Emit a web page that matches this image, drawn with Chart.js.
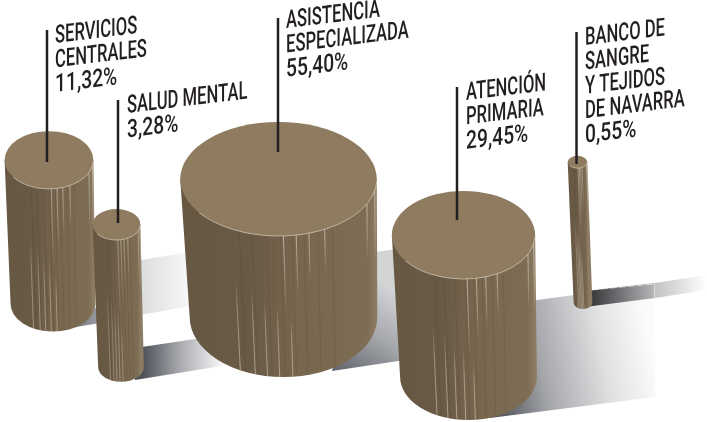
<!DOCTYPE html>
<html>
<head>
<meta charset="utf-8">
<title>Presupuesto por area</title>
<script src="https://cdn.jsdelivr.net/npm/chart.js@4/dist/chart.umd.min.js"></script>
<style>
  html, body { margin: 0; padding: 0; background: #fff; }
  #chart { display: block; }
</style>
</head>
<body>
<canvas id="chart" width="707" height="422"></canvas>
<script>
// Values
const names = [
  ['SERVICIOS', 'CENTRALES'],
  ['SALUD MENTAL'],
  ['ASISTENCIA', 'ESPECIALIZADA'],
  ['ATENCIÓN', 'PRIMARIA'],
  ['BANCO DE', 'SANGRE', 'Y TEJIDOS', 'DE NAVARRA']
];
const shares = [11.32, 3.28, 55.40, 29.45, 0.55];
const shareLabels = ['11,32%', '3,28%', '55,40%', '29,45%', '0,55%'];

// Where each cylinder stands, in axis units (the axes run over the whole page)
const topX = [49, 116.5, 278.5, 463.5, 577.5];
const topY = [160, 224.5, 179, 235, 162];
const baseX = [53, 121, 283.5, 468.5, 583];
const baseY = [304, 367, 317, 377, 303];
const flatness = [0.65, 0.65, 0.58, 0.615, 0.63];
const baseFlatness = [0.65, 0.65, 0.64, 0.63, 0.63];

// Leader lines and label blocks
const leaderX = [47, 118, 278, 457, 576.5];
const leaderTop = [30, 100, 18, 87, 32];
const leaderEnd = [162, 223, 152, 220, 164];
const labelX = [55, 127, 286, 466, 585];
const labelY = [43, 113, 28, 100, 45];

// The circle area carries the share, the radius is its square root
const RADIUS_PER_ROOT = 13.2;

// Same bark texture on all of them: u across (-1..1) and the part of the side (0..1) it covers
const streaksHigh = [[0.05, 0.55], [0.18, 0.45], [0.31, 0.35], [0.47, 0.3], [0.9, 0.4], [0.98, 0.5]];
const streaksLow = [[-0.46, 0.36], [-0.3, 0.4], [-0.17, 0.46], [-0.04, 0.49], [0.1, 0.6]];
const grooves = [-0.4, -0.27, -0.12, 0.02, 0.14, 0.26, 0.4, 0.55];

// Shadow bands on the floor: polygon, gradient line, colour stops
const shadows = [
  { pts: [[70, 328], [100, 323], [100, 306], [88, 312]], from: [72, 0], to: [100, 0],
    stops: [[0, '#6f7279'], [1, '#9c9ea3']] },
  { pts: [[135, 261], [190, 252], [190, 306], [135, 316]], from: [138, 0], to: [190, 0],
    stops: [[0, '#d9dbdd'], [1, '#f8f8f8']] },
  { pts: [[135, 348], [215, 336], [240, 363], [135, 380]], from: [143, 0], to: [226, 0],
    stops: [[0, '#4f5259'], [0.45, '#a9abb0'], [1, '#ffffff']] },
  { pts: [[360, 254], [405, 248], [405, 360], [332, 371]], from: [340, 375], to: [395, 290],
    stops: [[0, '#62656c'], [0.55, '#a9abb0'], [1, '#d3d4d6']] },
  { pts: [[530, 301], [655, 284], [655, 397], [490, 418]], from: [500, 400], to: [655, 370],
    stops: [[0, '#565960'], [0.3, '#a5a7ab'], [0.7, '#e0e1e2'], [1, '#fbfbfb']] },
  { pts: [[585, 291], [655, 283], [655, 298], [585, 307]], from: [592, 0], to: [655, 0],
    stops: [[0, '#3a3a3d'], [1, '#b5b7b9']] },
  { pts: [[655, 283], [707, 275], [707, 290], [655, 298]], from: [655, 0], to: [707, 0],
    stops: [[0, '#c0c2c4'], [1, '#ffffff']] }
];

const cylinderPlugin = {
  id: 'cylinders',
  afterDatasetsDraw: function(chart) {
    const ctx = chart.ctx;
    const sx = chart.scales.x;
    const sy = chart.scales.y;
    const points = chart.getDatasetMeta(0).data;

    // floor shadows first
    shadows.forEach(function(s) {
      const g = ctx.createLinearGradient(sx.getPixelForValue(s.from[0]), sy.getPixelForValue(s.from[1]),
        sx.getPixelForValue(s.to[0]), sy.getPixelForValue(s.to[1]));
      s.stops.forEach(function(st) { g.addColorStop(st[0], st[1]); });
      ctx.fillStyle = g;
      ctx.beginPath();
      s.pts.forEach(function(p, i) {
        if (i == 0) ctx.moveTo(sx.getPixelForValue(p[0]), sy.getPixelForValue(p[1]));
        else ctx.lineTo(sx.getPixelForValue(p[0]), sy.getPixelForValue(p[1]));
      });
      ctx.closePath();
      ctx.fill();
    });
    // thin pale edge on the last band
    ctx.save();
    ctx.strokeStyle = 'rgba(255,255,255,0.75)';
    ctx.lineWidth = 0.7;
    ctx.setLineDash([7, 2]);
    ctx.beginPath();
    ctx.moveTo(sx.getPixelForValue(592), sy.getPixelForValue(290));
    ctx.lineTo(sx.getPixelForValue(654.5), sy.getPixelForValue(284));
    ctx.stroke();
    ctx.setLineDash([]);
    ctx.beginPath();
    ctx.moveTo(sx.getPixelForValue(654.5), sy.getPixelForValue(284));
    ctx.lineTo(sx.getPixelForValue(654.5), sy.getPixelForValue(298));
    ctx.stroke();
    ctx.restore();

    points.forEach(function(pt, i) {
      const r = pt.options.radius;
      const k = flatness[i];
      const bk = baseFlatness[i];
      const bx = sx.getPixelForValue(baseX[i]);
      const by = sy.getPixelForValue(baseY[i]);
      const br = r * 0.955;

      // side of the cylinder
      const side = ctx.createLinearGradient(pt.x - r, 0, pt.x + r, 0);
      side.addColorStop(0, '#675844');
      side.addColorStop(0.36, '#695a46');
      side.addColorStop(0.6, '#78674f');
      side.addColorStop(0.95, '#7e6d55');
      side.addColorStop(1, '#8d7c64');
      ctx.fillStyle = side;
      ctx.beginPath();
      ctx.moveTo(pt.x - r, pt.y);
      ctx.lineTo(bx - br, by);
      ctx.ellipse(bx, by, br, br * bk, 0, Math.PI, 0, true);
      ctx.lineTo(pt.x + r, pt.y);
      ctx.closePath();
      ctx.fill();

      // grooves and light streaks, v runs from the top rim to the bottom rim
      ctx.save();
      ctx.clip();
      const sideLine = function(u, v0, v1, color, w, fade) {
        const rim = Math.sqrt(1 - u * u);
        const x0 = pt.x + u * r;
        const y0 = pt.y + rim * r * k;
        const x1 = bx + u * br;
        const y1 = by + rim * br * bk;
        const ax = x0 + (x1 - x0) * v0, ay = y0 + (y1 - y0) * v0;
        const ex = x0 + (x1 - x0) * v1, ey = y0 + (y1 - y0) * v1;
        let style = color;
        if (fade) {
          style = ctx.createLinearGradient(0, ay, 0, ey);
          fade.forEach(function(st) { style.addColorStop(st[0], st[1]); });
        }
        ctx.strokeStyle = style;
        ctx.lineWidth = w;
        ctx.beginPath();
        ctx.moveTo(ax, ay);
        ctx.lineTo(ex, ey);
        ctx.stroke();
      };
      const w = Math.max(0.6, Math.min(0.9, r / 60));
      grooves.forEach(function(u) { sideLine(u, 0, 1, 'rgba(70,60,45,0.22)', 0.8); });
      streaksHigh.forEach(function(s) {
        sideLine(s[0], 0, s[1], null, w, [[0, 'rgba(236,228,210,0.7)'], [0.6, 'rgba(236,228,210,0.35)'], [1, 'rgba(236,228,210,0)']]);
      });
      streaksLow.forEach(function(s) {
        sideLine(s[0], s[1], 1, null, w, [[0, 'rgba(236,228,210,0)'], [0.35, 'rgba(236,228,210,0.45)'], [1, 'rgba(236,228,210,0.55)']]);
      });
      ctx.restore();

      // top face with its pale rim at the front right
      ctx.fillStyle = '#8e7b60';
      ctx.beginPath();
      ctx.ellipse(pt.x, pt.y, r, r * k, 0, 0, Math.PI * 2);
      ctx.fill();
      ctx.strokeStyle = 'rgba(236,228,210,0.8)';
      ctx.lineWidth = 0.7;
      ctx.beginPath();
      ctx.ellipse(pt.x, pt.y, r, r * k, 0, 0.03, Math.PI * 0.8);
      ctx.stroke();
    });

    // leaders and labels on top of everything
    points.forEach(function(pt, i) {
      const lx = sx.getPixelForValue(leaderX[i]);
      ctx.strokeStyle = '#231f20';
      ctx.lineWidth = 2.5;
      ctx.beginPath();
      ctx.moveTo(lx, sy.getPixelForValue(leaderTop[i]));
      ctx.lineTo(lx, sy.getPixelForValue(leaderEnd[i]));
      ctx.stroke();

      const lines = names[i].concat([shareLabels[i]]);
      ctx.fillStyle = '#231f20';
      ctx.font = '500 25px Roboto, sans-serif';
      ctx.textAlign = 'left';
      ctx.textBaseline = 'alphabetic';
      lines.forEach(function(line, n) {
        // digits run wider than the capitals in the original face
        const a = (n == lines.length - 1) ? 0.77 : 0.665;
        ctx.save();
        // the block leans upward, letters stay upright and narrow
        ctx.transform(a, -0.12 * a, 0, 1, sx.getPixelForValue(labelX[i]), sy.getPixelForValue(labelY[i]) + n * 24.4);
        ctx.fillText(line, 0, 0);
        ctx.restore();
      });
    });
  }
};

new Chart(document.getElementById('chart'), {
  type: 'bubble',
  data: {
    labels: names.map(function(n) { return n.join(' '); }),
    datasets: [{
      label: 'Presupuesto',
      data: shares.map(function(v, i) {
        return { x: topX[i], y: topY[i], r: RADIUS_PER_ROOT * Math.sqrt(v) };
      }),
      backgroundColor: 'rgba(0,0,0,0)',
      borderWidth: 0
    }]
  },
  options: {
    responsive: false,
    animation: false,
    layout: { padding: 0, autoPadding: false },
    plugins: { legend: { display: false }, tooltip: { enabled: false } },
    scales: {
      x: { type: 'linear', min: 0, max: 707, display: false },
      y: { type: 'linear', min: 0, max: 422, reverse: true, display: false }
    }
  },
  plugins: [cylinderPlugin]
});
</script>
</body>
</html>
